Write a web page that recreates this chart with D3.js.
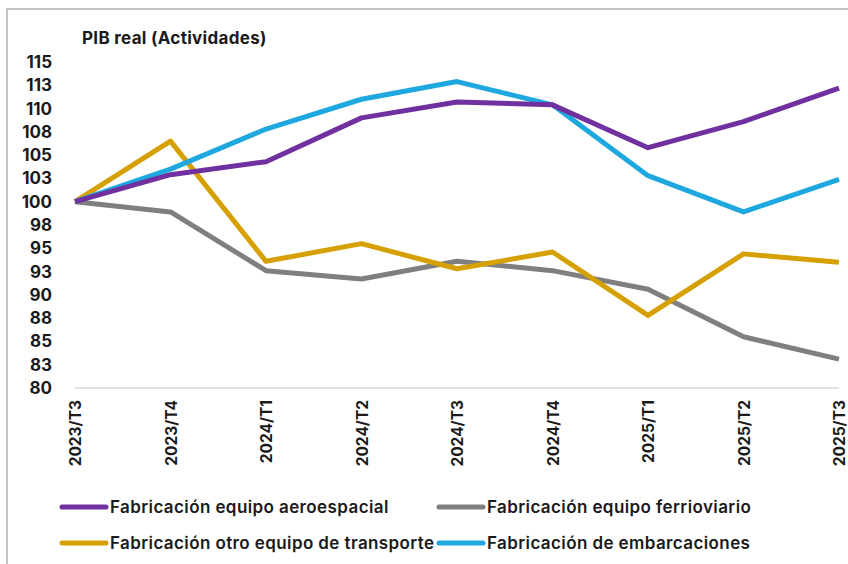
<!DOCTYPE html>
<html>
<head>
<meta charset="utf-8">
<script src="https://cdn.jsdelivr.net/npm/d3@7"></script>
<style>
  body { margin: 0; background: #fff; }
  text { font-family: Inter, "Liberation Sans", Arial, sans-serif; fill: #1a1a1a; }
</style>
</head>
<body>
<div id="chart"></div>
<script>
var periods = ["2023/T3", "2023/T4", "2024/T1", "2024/T2", "2024/T3", "2024/T4", "2025/T1", "2025/T2", "2025/T3"];
var aeroespacial = [100, 102.9, 104.3, 109.0, 110.7, 110.4, 105.8, 108.6, 112.2];
var ferroviario = [100, 98.9, 92.6, 91.7, 93.6, 92.6, 90.6, 85.5, 83.1];
var otroTransporte = [100, 106.5, 93.6, 95.5, 92.8, 94.6, 87.8, 94.4, 93.5];
var embarcaciones = [100, 103.5, 107.8, 111.0, 112.9, 110.4, 102.8, 98.9, 102.4];
var yTicks = d3.range(80, 115.1, 2.5);

var seriesNames = ["Fabricación equipo aeroespacial", "Fabricación equipo ferrioviario",
                   "Fabricación otro equipo de transporte", "Fabricación de embarcaciones"];
var seriesValues = [aeroespacial, ferroviario, otroTransporte, embarcaciones];
var colors = ["#7030a0", "#7f7f7f", "#d6a000", "#1ea8df"];
// draw order: grey and gold below, blue and purple on top
var drawOrder = [1, 2, 3, 0];

var width = 848, height = 564;

var svg = d3.select("#chart").append("svg")
    .attr("width", width)
    .attr("height", height);

// frame of the original screenshot
svg.append("rect")
    .attr("x", 7).attr("y", 9)
    .attr("width", 900).attr("height", 600)
    .attr("fill", "none")
    .attr("stroke", "#c4c4c4")
    .attr("stroke-width", 2);

var xScale = d3.scalePoint().domain(periods).range([75, 839]);
var yScale = d3.scaleLinear().domain([80, 115]).range([388, 62]);

svg.append("text")
    .attr("x", 82).attr("y", 44)
    .style("font-size", "17px")
    .style("font-weight", 700)
    .style("letter-spacing", "0.3px")
    .text("PIB real (Actividades)");

// baseline at 80
svg.append("line")
    .attr("x1", xScale.range()[0]).attr("x2", xScale.range()[1])
    .attr("y1", yScale(80)).attr("y2", yScale(80))
    .attr("stroke", "#d9d9d9")
    .attr("stroke-width", 1.5);

var yAxis = svg.append("g")
    .attr("transform", "translate(55,0)")
    .call(d3.axisLeft(yScale).tickValues(yTicks).tickSize(0).tickPadding(3)
        .tickFormat(function (d) { return Math.round(d); }));
yAxis.select(".domain").remove();
yAxis.selectAll("text")
    .style("font-size", "17px")
    .style("font-weight", 700)
    .style("font-family", "Inter, 'Liberation Sans', Arial, sans-serif")
    .attr("fill", "#1a1a1a");

var xAxis = svg.append("g")
    .attr("transform", "translate(0,396)")
    .call(d3.axisBottom(xScale).tickSize(0).tickPadding(0));
xAxis.select(".domain").remove();
xAxis.selectAll("text")
    .attr("transform", "rotate(-90)")
    .attr("text-anchor", "end")
    .attr("x", -4)
    .attr("y", 0)
    .attr("dy", "0.36em")
    .style("font-size", "15.5px")
    .style("font-weight", 700)
    .style("font-family", "Inter, 'Liberation Sans', Arial, sans-serif")
    .attr("fill", "#1a1a1a");

var line = d3.line()
    .x(function (d, i) { return xScale(periods[i]); })
    .y(function (d) { return yScale(d); });

drawOrder.forEach(function (k) {
    svg.append("path")
        .datum(seriesValues[k])
        .attr("fill", "none")
        .attr("stroke", colors[k])
        .attr("stroke-width", 5)
        .attr("stroke-linejoin", "round")
        .attr("d", line);
});

// legend 2 x 2
var legendX = [62, 439], legendY = [507, 543];
var legend = svg.append("g");
seriesNames.forEach(function (name, i) {
    var lx = legendX[i % 2], ly = legendY[Math.floor(i / 2)];
    legend.append("line")
        .attr("x1", lx).attr("x2", lx + 44)
        .attr("y1", ly).attr("y2", ly)
        .attr("stroke", colors[i])
        .attr("stroke-width", 5)
        .attr("stroke-linecap", "round");
    legend.append("text")
        .attr("x", lx + 48).attr("y", ly)
        .attr("dy", "0.36em")
        .style("font-size", "17px")
        .style("font-weight", 600)
        .style("letter-spacing", "0.4px")
        .text(name);
});
</script>
</body>
</html>
